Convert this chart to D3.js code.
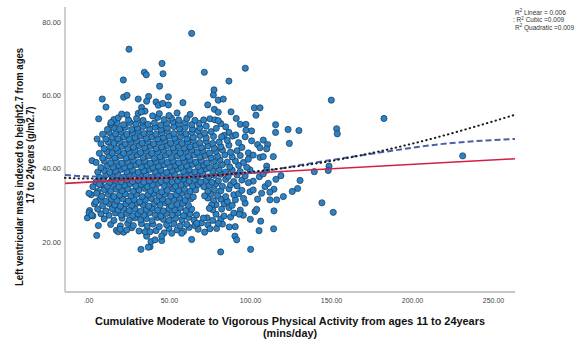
<!DOCTYPE html>
<html>
<head>
<meta charset="utf-8">
<script src="https://cdn.jsdelivr.net/npm/d3@7"></script>
<style>
  body { margin: 0; background: #fff; }
  svg { display: block; font-family: "Liberation Sans", Arial, sans-serif; }
</style>
</head>
<body>
<div id="chart"></div>
<script>
// axis ticks
const xTicks = [0, 50, 100, 150, 200, 250];
const yTicks = [20, 40, 60, 80];
const legendPrefix = ['', ': ', ''];
const legendText = [' Linear = 0.006', ' Cubic =0.009', ' Quadratic =0.009'];

// scatter points [mvpa, lvmi]
const cloudLow = [
  [17.5,23.1],[22,22.6],[27,23.8],[31.5,22.9],[42,23.0],[47,22.4],[50,23.6],[55,23.2],[59,22.8],[62.5,23.9],[68,23.4],[72,22.6],
  [14,24.7],[20,24.3],[24.5,25.0],[28,24.4],[33,24.9],[36.5,24.2],[40,24.8],[44,24.1],[48.5,24.6],[53,24.9],[57,24.3],[61,24.7],[66,24.4],[70,25.1],[74,24.6],[83,24.8],
  [10,26.2],[16,25.8],[21,26.4],[25.5,25.9],[29,26.5],[32.5,26.0],[36,26.3],[39.5,25.7],[43,26.6],[46.5,26.1],[50,25.8],[54,26.4],[58,26.0],[62,26.6],[65.5,25.9],[73.5,26.5],[77,25.8],[82,26.2],[88,26.7],
  [3,27.0],[8,27.6],[13,27.2],[17,27.8],[20.5,27.3],[24,27.7],[27.5,27.1],[31,27.6],[34.5,27.2],[38,27.9],[41.5,27.4],[45,27.0],[48.5,27.7],[52,27.3],[55.5,27.8],[59,27.1],[63,27.6],[67,27.3],[79,27.5],[84,27.0],[90,27.8],
  [1,28.5],[6,28.9],[11,28.4],[15,29.0],[18.5,28.6],[22,29.1],[25.5,28.5],[29,28.9],[32.5,28.3],[36,28.8],[39.5,29.2],[43,28.6],[46.5,28.4],[50,29.0],[53.5,28.7],[57,29.2],[60.5,28.5],[64,28.9],[77,28.7],[82.5,28.9],[87,29.3],[94,28.6],
  [4,30.3],[9,29.8],[13,30.4],[16.5,30.0],[20,29.7],[23.5,30.3],[27,29.9],[30.5,30.5],[34,30.1],[37.5,29.7],[41,30.4],[44.5,30.0],[48,30.6],[51.5,29.8],[55,30.2],[58.5,30.5],[62,29.9],[79,30.1],[84,30.4],[89,29.9],[97,30.5],
  [7,31.4],[11,31.0],[14.5,31.6],[18,31.2],[21.5,31.7],[25,31.1],[28.5,31.5],[32,30.9],[35.5,31.4],[39,31.8],[42.5,31.2],[46,31.6],[49.5,31.0],[53,31.5],[56.5,31.9],[60,31.3],[63.5,31.7],[74,31.9],[77.5,31.2],[82,31.6],[86,31.0],[91,31.4],[96,31.8],
  [2,32.8],[8.5,32.4],[12.5,32.9],[16,32.3],[19.5,32.7],[23,33.0],[26.5,32.5],[30,32.9],[33.5,32.3],[37,32.8],[40.5,33.1],[44,32.5],[47.5,32.9],[51,32.4],[54.5,32.8],[58,33.2],[61.5,32.6],[65,32.2],[72,32.5],[76,33.0],[80,32.6],[85,32.3],[90,32.8],[93,33.1]
];

const cloudMid = [
  [6,33.7],[10,34.2],[14,33.8],[17.5,34.3],[21,33.9],[24.5,34.4],[28,33.7],[31.5,34.1],[35,34.5],[38.5,33.8],[42,34.2],[45.5,33.6],[49,34.0],[52.5,34.4],[56,33.9],[59.5,34.3],[63,33.7],[66.5,34.1],[74,33.8],[78,34.2],[82,33.9],[87,34.4],[95,34.0],
  [3,35.0],[8,35.5],[12,35.1],[15.5,35.6],[19,35.0],[22.5,35.4],[26,35.8],[29.5,35.2],[33,35.6],[36.5,35.0],[40,35.5],[43.5,35.9],[47,35.3],[50.5,35.7],[54,35.1],[57.5,35.5],[61,35.9],[64.5,35.2],[68,35.6],[71.5,35.0],[75,35.4],[79,35.8],[83,35.1],[88,35.5],[92,35.2],
  [5,36.3],[9.5,36.8],[13.5,36.2],[17,36.7],[20.5,36.3],[24,36.9],[27.5,36.4],[31,36.8],[34.5,36.2],[38,36.6],[41.5,37.0],[45,36.4],[48.5,36.8],[52,36.3],[55.5,36.7],[59,37.1],[62.5,36.5],[66,36.9],[69.5,36.3],[73,36.7],[76.5,36.2],[80.5,36.6],[85,37.0],[90,36.4],[95,36.8],[102,36.5],
  [7,37.6],[11,38.1],[15,37.7],[18.5,38.2],[22,37.6],[25.5,38.0],[29,38.4],[32.5,37.8],[36,38.2],[39.5,37.6],[43,38.0],[46.5,38.5],[50,37.9],[53.5,38.3],[57,37.7],[60.5,38.1],[64,38.5],[67.5,37.9],[71,38.3],[74.5,37.7],[78,38.1],[82,38.4],[86.5,37.8],[92,38.2],[97,37.9],
  [6,39.0],[10,39.4],[13.5,38.9],[17,39.3],[20.5,39.7],[24,39.1],[27.5,39.5],[31,38.9],[34.5,39.3],[38,39.7],[41.5,39.1],[45,39.5],[48.5,38.9],[52,39.4],[55.5,39.8],[59,39.2],[62.5,39.6],[66,39.0],[69.5,39.4],[73,39.8],[77,39.2],[81,39.6],[85,39.0],[89,39.5],[94,39.1],[100,39.6],
  [8,40.2],[12,40.7],[15.5,40.3],[19,40.8],[22.5,40.2],[26,40.6],[29.5,41.0],[33,40.4],[36.5,40.8],[40,40.2],[43.5,40.6],[47,41.0],[50.5,40.4],[54,40.8],[57.5,40.3],[61,40.7],[64.5,41.1],[68,40.5],[71.5,40.9],[75,40.3],[79,40.7],[83,41.0],[87.5,40.4],[93,40.8],[98,40.3],
  [2.5,42.1],[5,41.6],[10,42.0],[14,41.5],[17.5,41.9],[21,41.4],[24.5,41.8],[28,42.2],[31.5,41.6],[35,42.0],[38.5,41.4],[42,41.8],[45.5,42.2],[49,41.6],[52.5,42.0],[56,41.5],[59.5,41.9],[63,42.3],[66.5,41.7],[70,42.1],[73.5,41.5],[77.5,41.9],[81.5,42.3],[86,41.7],[91,42.0],[96,41.6]
];

const cloudHigh = [
  [9,42.8],[13,43.3],[16.5,42.9],[20,43.4],[23.5,42.8],[27,43.2],[30.5,43.6],[34,43.0],[37.5,43.4],[41,42.8],[44.5,43.2],[48,43.6],[51.5,43.0],[55,43.4],[58.5,42.9],[62,43.3],[65.5,43.7],[69,43.1],[72.5,43.5],[76,42.9],[80,43.3],[84.5,43.7],[89,43.1],[94,43.5],
  [7,44.1],[11.5,44.6],[15,44.2],[18.5,44.7],[22,44.1],[25.5,44.5],[29,44.9],[32.5,44.3],[36,44.7],[39.5,44.1],[43,44.5],[46.5,44.9],[50,44.3],[53.5,44.7],[57,44.2],[60.5,44.6],[64,45.0],[67.5,44.4],[71,44.8],[75,44.2],[79,44.6],[83,45.0],[88,44.4],[92,44.8],[99,44.2],
  [10,45.4],[14,45.9],[17.5,45.5],[21,46.0],[24.5,45.4],[28,45.8],[31.5,46.2],[35,45.6],[38.5,46.0],[42,45.4],[45.5,45.8],[49,46.2],[52.5,45.6],[56,46.0],[59.5,45.5],[63,45.9],[66.5,46.3],[70,45.7],[74,46.1],[78,45.5],[82,45.9],[87,46.3],[95,45.7],
  [8,46.7],[12.5,47.2],[16,46.8],[19.5,47.3],[23,46.7],[26.5,47.1],[30,47.5],[33.5,46.9],[37,47.3],[40.5,46.7],[44,47.1],[47.5,47.5],[51,46.9],[54.5,47.3],[58,46.8],[61.5,47.2],[65,47.6],[69,47.0],[73,47.4],[77,46.8],[81,47.2],[86,47.6],[93,47.0],
  [11,48.0],[15,48.5],[18.5,48.1],[22,48.6],[25.5,48.0],[29,48.4],[32.5,48.8],[36,48.2],[39.5,48.6],[43,48.0],[46.5,48.4],[50,48.8],[53.5,48.2],[57,48.6],[61,48.1],[65,48.5],[69,48.9],[73,48.3],[77.5,48.7],[97,48.6],
  [9,49.3],[13,49.8],[17,49.4],[20.5,49.9],[24,49.3],[27.5,49.7],[31,50.1],[34.5,49.5],[38,49.9],[42,49.3],[45.5,49.7],[49,50.1],[53,49.5],[57,49.9],[60.5,49.4],[64,49.8],[68,50.2],[72,49.6],[76,50.0],[87,49.8],[101,50.2],
  [12,50.6],[16,51.1],[19.5,50.7],[23,51.2],[27,50.6],[30.5,51.0],[34,51.4],[38,50.8],[41.5,51.2],[45,50.6],[49,51.0],[53,51.4],[56.5,50.8],[60,51.2],[64.5,50.7],[69,51.1],[73,51.5],[85,51.3],
  [14,52.0],[18,52.4],[22,51.9],[26,52.5],[29.5,52.1],[33.5,52.6],[37,52.0],[41,52.4],[45,51.8],[48.5,52.3],[52.5,52.7],[56,52.1],[60,52.5],[64,51.9],[68.5,52.3],[82,52.2],
  [16,53.3],[25,53.2],[30,53.6],[34,53.1],[43,53.9],[47,53.3],[51.5,53.7],[56,53.2],[61,53.6],[66,53.1],
  [24,54.6],[31,55.0],[44,54.9],[50,54.4],[55,55.1],[63,54.7]
];

const outliers = [
  [64.0,76.8],[25.3,72.5],[45.7,68.6],[34.8,66.2],[36.0,65.5],[46.3,65.8],[71.8,66.2],[97.1,67.3],[87.0,63.8],[21.8,64.1],
  [44.2,62.4],[77.8,61.4],[77.4,60.0],[8.8,58.9],[11.1,56.7],[22.0,59.4],[24.1,59.9],[31.0,58.9],[37.4,59.6],[36.2,58.3],
  [42.0,58.1],[43.4,57.2],[46.1,57.7],[49.6,59.5],[49.6,57.3],[33.1,56.6],[35.2,55.6],[32.9,55.4],[58.6,57.9],[80.4,58.6],
  [83.5,58.9],[73.9,57.3],[78.0,56.1],[80.4,55.3],[39.9,54.3],[6.6,53.5],[14.2,52.5],[5.6,48.0],[18.7,53.8],[20.8,54.8],
  [88.3,55.4],[102.7,56.5],[106.2,56.5],[103.7,54.5],[91.5,53.6],[71.4,53.2],[75.3,53.5],[78.4,53.2],[80.4,53.0],[79.2,50.9],
  [94.0,52.0],[97.5,52.0],[97.5,50.4],[115.8,51.9],[115.8,49.8],[123.5,50.6],[130.2,50.3],[150.2,58.6],[153.5,50.8],[153.9,49.4],
  [124.3,46.8],[89.3,48.8],[91.2,49.1],[84.0,49.0],[82.5,48.6],[101.0,47.5],[104.7,46.5],[108.2,47.7],[110.9,46.5],[106.2,45.6],
  [110.3,45.3],[114.4,43.2],[102.0,43.6],[106.2,43.0],[99.0,42.5],[108.2,43.2],[110.3,40.6],[148.8,40.6],[148.3,39.4],[139.7,39.1],
  [130.9,36.7],[129.4,34.5],[126.1,33.7],[120.6,32.3],[119.1,38.0],[116.0,37.0],[144.4,30.6],[151.4,28.0],[114.8,28.4],[114.6,23.5],
  [105.6,23.0],[106.6,25.6],[100.2,26.1],[103.1,28.2],[104.1,28.8],[100.4,17.9],[81.9,17.2],[90.7,21.5],[91.8,20.5],[90.9,24.1],
  [87.2,24.0],[95.9,27.2],[93.4,27.5],[112.3,31.4],[116.5,31.4],[114.8,34.3],[104.7,31.6],[107.2,33.2],[112.3,33.5],[109.3,35.0],
  [111.3,35.9],[105.8,37.7],[108.2,38.5],[110.3,39.5],[99.0,36.1],[100.0,33.6],[102.0,34.1],[32.7,17.9],[5.4,21.7],[6.4,24.4],
  [-0.4,26.5],[0.6,27.9],[2.3,27.3],[0.6,33.2],[5.4,33.2],[4.8,30.9],[7.0,35.6],[38.3,18.6],[38.9,20.0],[41.4,20.5],
  [45.5,20.3],[45.5,21.5],[64.0,20.6],[36.2,21.5],[35.2,22.7],[38.3,22.7],[18.7,22.7],[19.8,23.4],[23.9,23.2],[51.7,22.3],
  [57.8,22.3],[75.3,23.5],[79.4,23.6],[80.4,25.0],[76.3,30.0],[74.9,29.1],[71.2,26.4],[67.1,25.0],[37.2,18.5],[182.7,53.6],
  [231.3,43.4]
];

// fit lines
const fitLinear = [[-14.2,35.9],[263.6,42.6]];
const fitCubic = [[-14.2,38.2],[0,37.8],[50,37.7],[100,38.7],[110,39.3],[131,40.9],[155,42.6],[180,44.3],[222,46.8],[263.6,48.0]];
const fitQuadratic = [[-14.2,37.4],[0,37.2],[50,37.4],[100,39.0],[150,42.0],[200,46.7],[263.6,54.6]];

const width = 584, height = 345;
const plot = { left: 65, right: 515, top: 7, bottom: 292 };

const svg = d3.select('#chart').append('svg')
  .attr('width', width)
  .attr('height', height);

svg.append('rect').attr('width', width).attr('height', height).attr('fill', '#fff');

const x = d3.scaleLinear().domain([-14.2, 263.6]).range([plot.left, plot.right]);
const y = d3.scaleLinear().domain([6.27, 84.0]).range([plot.bottom, plot.top]);

const fmt = d => d === 0 ? '.00' : d3.format('.2f')(d);

// axes (labels only, SPSS style: no tick marks)
const gx = svg.append('g')
  .attr('transform', 'translate(0,' + plot.bottom + ')')
  .call(d3.axisBottom(x).tickValues(xTicks).tickSize(0).tickPadding(6).tickFormat(fmt));
gx.select('.domain').remove();
gx.selectAll('text').attr('font-size', 7).attr('fill', '#444').attr('font-family', null);

const gy = svg.append('g')
  .attr('transform', 'translate(' + plot.left + ',0)')
  .call(d3.axisLeft(y).tickValues(yTicks).tickSize(0).tickPadding(4).tickFormat(fmt));
gy.select('.domain').remove();
gy.selectAll('text').attr('font-size', 7.5).attr('fill', '#444').attr('font-family', null);

svg.append('line')
  .attr('x1', plot.left).attr('x2', plot.left)
  .attr('y1', plot.top).attr('y2', plot.bottom)
  .attr('stroke', '#b4b4b4').attr('stroke-width', 1.3);
svg.append('line')
  .attr('x1', plot.left).attr('x2', plot.right)
  .attr('y1', plot.bottom).attr('y2', plot.bottom)
  .attr('stroke', '#b4b4b4').attr('stroke-width', 1.3);

// points
const allPoints = cloudLow.concat(cloudMid, cloudHigh, outliers);
svg.append('g')
  .selectAll('circle')
  .data(allPoints)
  .enter().append('circle')
  .attr('cx', d => x(d[0]))
  .attr('cy', d => y(d[1]))
  .attr('r', 3.1)
  .attr('fill', '#2b83c6')
  .attr('stroke', '#1b3550')
  .attr('stroke-width', 0.7);

// fit lines on top
const line = d3.line().x(d => x(d[0])).y(d => y(d[1])).curve(d3.curveMonotoneX);

svg.append('path').datum(fitLinear)
  .attr('d', line).attr('fill', 'none')
  .attr('stroke', '#d41f45').attr('stroke-width', 1.6);

svg.append('path').datum(fitCubic)
  .attr('d', line).attr('fill', 'none')
  .attr('stroke', '#4a60aa').attr('stroke-width', 2)
  .attr('stroke-dasharray', '6,3');

svg.append('path').datum(fitQuadratic)
  .attr('d', line).attr('fill', 'none')
  .attr('stroke', '#1c1c1c').attr('stroke-width', 2)
  .attr('stroke-linecap', 'round')
  .attr('stroke-dasharray', '0.5,4');

// legend, R with a raised 2
const legend = svg.append('g')
  .selectAll('text')
  .data(legendText)
  .enter().append('text')
  .attr('x', (d, i) => i === 1 ? 513 : 515)
  .attr('y', (d, i) => 14.5 + i * 7.5)
  .attr('font-size', 6.5)
  .attr('fill', '#333');
legend.append('tspan').text((d, i) => legendPrefix[i] + 'R');
legend.append('tspan').attr('dy', -2.5).attr('font-size', 4.5).text('2');
legend.append('tspan').attr('dy', 2.5).text(d => d);

// axis titles
const xTitle = svg.append('g').attr('font-weight', 'bold').attr('fill', '#111').attr('text-anchor', 'middle');
xTitle.append('text').attr('x', 290).attr('y', 324.5).attr('font-size', 10.5)
  .attr('textLength', 390).attr('lengthAdjust', 'spacingAndGlyphs')
  .text('Cumulative Moderate to Vigorous Physical Activity from ages 11 to 24years');
xTitle.append('text').attr('x', 290).attr('y', 337).attr('font-size', 10.5)
  .attr('textLength', 54).attr('lengthAdjust', 'spacingAndGlyphs')
  .text('(mins/day)');

const yTitle = svg.append('g').attr('font-weight', 'bold').attr('fill', '#111').attr('text-anchor', 'middle');
yTitle.append('text').attr('transform', 'translate(23,167) rotate(-90)').attr('font-size', 10.5)
  .attr('textLength', 238).attr('lengthAdjust', 'spacingAndGlyphs')
  .text('Left ventricular mass indexed to height2.7 from ages');
yTitle.append('text').attr('transform', 'translate(34,155) rotate(-90)').attr('font-size', 10.5)
  .attr('textLength', 97).attr('lengthAdjust', 'spacingAndGlyphs')
  .text('17 to 24years (g/m2.7)');
</script>
</body>
</html>
